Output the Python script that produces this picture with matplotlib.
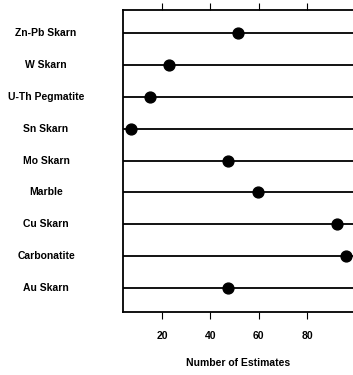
import matplotlib
matplotlib.use("Agg")
import matplotlib.pyplot as plt

categories = ["Zn-Pb Skarn", "W Skarn", "U-Th Pegmatite", "Sn Skarn", "Mo Skarn",
              "Marble", "Cu Skarn", "Carbonatite", "Au Skarn"]
estimates = [51.3, 23.0, 15.0, 7.2, 47.4, 59.6, 92.2, 96.3, 47.4]
xticks = [20, 40, 60, 80]

fig = plt.figure(figsize=(3.53, 3.75), dpi=100)
ax = fig.add_axes([123/353, 63/375, 230/353, 302/375])

n = len(categories)
ypos = [n - i for i in range(n)]
for y in ypos:
    ax.axhline(y, color="black", lw=1.3, zorder=1)
ax.plot(estimates, ypos, "o", color="black", ms=7.8, zorder=3)

ax.set_xlim(3.9, 99)
ax.set_ylim(0.25, n + 0.72)
ax.set_xticks(xticks)
ax.set_xticklabels([str(t) for t in xticks], fontsize=7.5, fontweight="bold",
                   family="Liberation Sans")
ax.tick_params(axis="x", which="both", top=True, direction="out", length=5,
               width=0.8, pad=9)
ax.set_yticks([])
for y, c in zip(ypos, categories):
    ax.text(46/353, ax.transData.transform((0, y))[1] / 375, c,
            transform=fig.transFigure, ha="center", va="center",
            fontsize=7.5, fontweight="bold", family="Liberation Sans")
ax.spines["right"].set_visible(False)
for s in ["left", "top", "bottom"]:
    ax.spines[s].set_linewidth(1.3)
ax.set_xlabel("Number of Estimates", fontsize=7.5, fontweight="bold",
              family="Liberation Sans", labelpad=12)

fig.savefig("out.png", dpi=100)
